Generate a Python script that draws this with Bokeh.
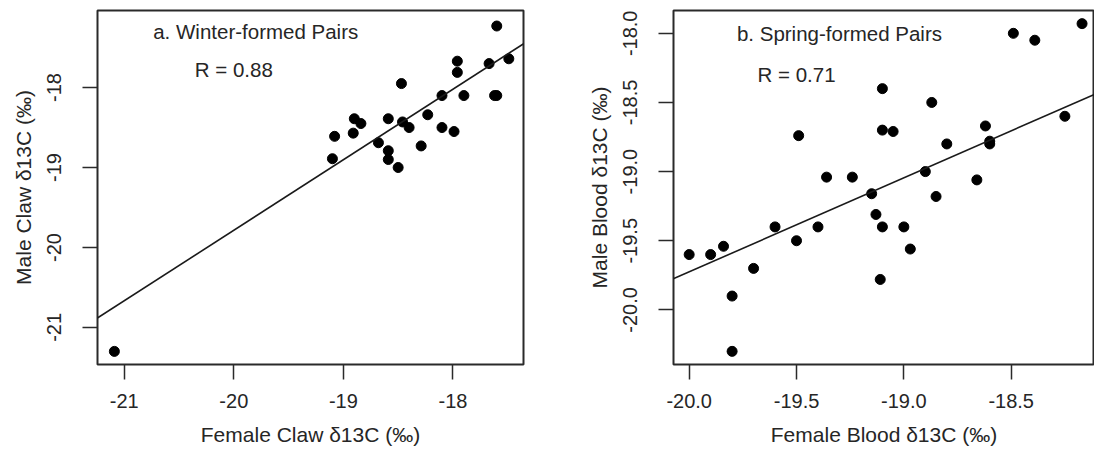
from bokeh.plotting import figure
from bokeh.layouts import row
from bokeh.models import Slope, Label, FixedTicker, PrintfTickFormatter, Range1d
from bokeh.embed import file_html
from bokeh.resources import INLINE

# ---- Panel a: winter-formed pairs (claw) ----
female_claw = [-21.09, -19.08, -19.10, -18.90, -18.84, -18.91, -18.68, -18.59, -18.59,
               -18.59, -18.50, -18.47, -18.46, -18.40, -18.29, -18.23, -18.10, -18.10,
               -17.99, -17.96, -17.96, -17.90, -17.67, -17.62, -17.60, -17.60, -17.49]
male_claw = [-21.30, -18.61, -18.89, -18.39, -18.45, -18.57, -18.69, -18.39, -18.79,
             -18.90, -19.00, -17.95, -18.43, -18.50, -18.73, -18.34, -18.50, -18.10,
             -18.55, -17.67, -17.81, -18.10, -17.70, -18.10, -18.10, -17.23, -17.64]
claw_fit = dict(slope=0.882, intercept=-2.145)
claw_ticks = [-21, -20, -19, -18]

# ---- Panel b: spring-formed pairs (blood) ----
female_blood = [-20.00, -19.90, -19.84, -19.80, -19.80, -19.70, -19.60, -19.50, -19.49,
                -19.40, -19.36, -19.24, -19.15, -19.13, -19.10, -19.11, -19.10, -19.10,
                -19.05, -19.00, -18.97, -18.90, -18.87, -18.85, -18.80, -18.66, -18.62,
                -18.60, -18.60, -18.49, -18.39, -18.25, -18.17]
male_blood = [-19.60, -19.60, -19.54, -19.90, -20.30, -19.70, -19.40, -19.50, -18.74,
              -19.40, -19.04, -19.04, -19.16, -19.31, -19.40, -19.78, -18.40, -18.70,
              -18.71, -19.40, -19.56, -19.00, -18.50, -19.18, -18.80, -19.06, -18.67,
              -18.78, -18.80, -18.00, -18.05, -18.60, -17.93]
blood_fit = dict(slope=0.680, intercept=-6.125)
blood_xticks = [-20.0, -19.5, -19.0, -18.5]
blood_yticks = [-20.0, -19.5, -19.0, -18.5, -18.0]

FONT = "Liberation Sans"
TXT = "#262626"


def style(p):
    p.toolbar.logo = None
    p.grid.grid_line_color = None
    p.outline_line_color = "#2a2a2a"
    p.outline_line_width = 2
    p.background_fill_color = "white"
    p.border_fill_color = "white"
    for ax in p.axis:
        ax.axis_line_color = None
        ax.major_tick_in = 0
        ax.major_tick_out = 15
        ax.major_tick_line_width = 1.5
        ax.major_tick_line_color = "#2a2a2a"
        ax.minor_tick_line_color = None
        ax.major_label_text_font = FONT
        ax.major_label_text_font_size = "20px"
        ax.major_label_text_color = TXT
        ax.axis_label_text_font = FONT
        ax.axis_label_text_font_size = "21px"
        ax.axis_label_text_font_style = "normal"
        ax.axis_label_text_color = TXT
    p.xaxis.major_label_standoff = 14
    p.xaxis.axis_label_standoff = 12
    p.yaxis.major_label_standoff = 21
    p.yaxis.axis_label_standoff = 10
    p.yaxis.major_label_orientation = "vertical"


def note(p, x, y, text):
    p.add_layout(Label(x=x, y=y, text=text, text_align="center", text_baseline="middle",
                       text_font=FONT, text_font_size="20.5px", text_color=TXT))


# Panel a
p1 = figure(width=583, height=457, output_backend="svg", toolbar_location=None,
            x_range=Range1d(-21.244, -17.356), y_range=Range1d(-21.464, -17.036),
            min_border_left=97, min_border_right=60, min_border_top=10, min_border_bottom=93,
            x_axis_label="Female Claw δ13C (‰)", y_axis_label="Male Claw δ13C (‰)")
style(p1)
p1.xaxis.ticker = FixedTicker(ticks=claw_ticks)
p1.yaxis.ticker = FixedTicker(ticks=claw_ticks)
p1.xaxis.formatter = PrintfTickFormatter(format="%d")
p1.yaxis.formatter = PrintfTickFormatter(format="%d")
p1.add_layout(Slope(gradient=claw_fit["slope"], y_intercept=claw_fit["intercept"],
                    line_color="#1a1a1a", line_width=1.6))
p1.scatter(female_claw, male_claw, size=10, color="black")
note(p1, -19.8, -17.3, "a. Winter-formed Pairs")
note(p1, -20.0, -17.78, "R = 0.88")

# Panel b
p2 = figure(width=511, height=457, output_backend="svg", toolbar_location=None,
            x_range=Range1d(-20.073, -18.112), y_range=Range1d(-20.395, -17.835),
            min_border_left=90, min_border_right=0, min_border_top=10, min_border_bottom=93,
            x_axis_label="Female Blood δ13C (‰)", y_axis_label="Male Blood δ13C (‰)")
style(p2)
p2.xaxis.ticker = FixedTicker(ticks=blood_xticks)
p2.yaxis.ticker = FixedTicker(ticks=blood_yticks)
p2.xaxis.formatter = PrintfTickFormatter(format="%.1f")
p2.yaxis.formatter = PrintfTickFormatter(format="%.1f")
p2.add_layout(Slope(gradient=blood_fit["slope"], y_intercept=blood_fit["intercept"],
                    line_color="#1a1a1a", line_width=1.6))
p2.scatter(female_blood, male_blood, size=10, color="black")
note(p2, -19.30, -18.0, "b. Spring-formed Pairs")
note(p2, -19.5, -18.30, "R = 0.71")

layout = row(p1, p2)
open("out.html", "w").write(file_html(layout, INLINE))
